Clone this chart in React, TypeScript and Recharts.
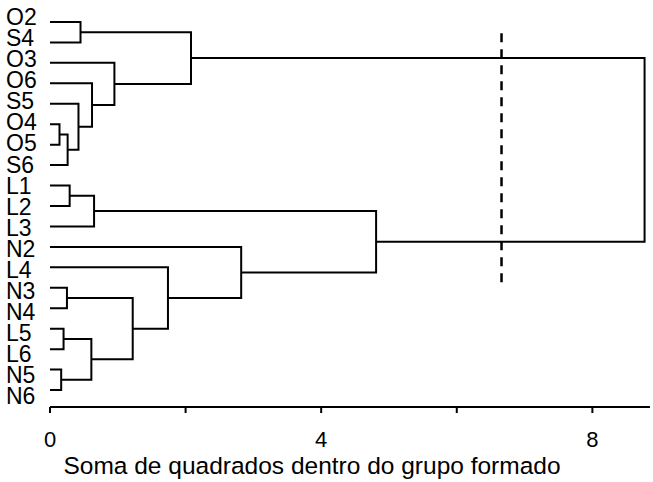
import React from 'react';
import { ScatterChart, Scatter, XAxis, YAxis } from 'recharts';

// Leaf names, top to bottom
const leaves = ['O2', 'S4', 'O3', 'O6', 'S5', 'O4', 'O5', 'S6', 'L1', 'L2', 'L3', 'N2', 'L4', 'N3', 'N4', 'L5', 'L6', 'N5', 'N6'];

// Merge steps: [childA, childB, height]; indices < leaves.length are leaves, the rest are earlier merges
const mergeA = [5, 19, 4, 3, 2, 0, 24, 8, 26, 17, 15, 13, 29, 30, 12, 11, 27, 25];
const mergeB = [6, 7, 20, 21, 22, 1, 23, 9, 10, 18, 16, 14, 28, 31, 32, 33, 34, 35];
const mergeHeight = [0.14, 0.26, 0.42, 0.62, 0.95, 0.45, 2.08, 0.29, 0.65, 0.165, 0.2, 0.25, 0.61, 1.22, 1.74, 2.82, 4.81, 8.77];

// Cut level
const cutLevel = 6.66;
const cutSpan = [0.55, 12.75];

const xTicks = [0, 2, 4, 6, 8];
const xTickLabels = ['0', '', '4', '', '8'];
const xLabel = 'Soma de quadrados dentro do grupo formado';

const FONT = '"Liberation Sans", Arial, Helvetica, sans-serif';

type Node = { y: number; h: number };

function buildLinks() {
  const nodes: Node[] = leaves.map((_, i) => ({ y: i, h: 0 }));
  const links: { x: number; y: number }[][] = [];
  mergeA.forEach((a, i) => {
    const b = mergeB[i];
    const h = mergeHeight[i];
    const na = nodes[a];
    const nb = nodes[b];
    links.push([
      { x: na.h, y: na.y },
      { x: h, y: na.y },
      { x: h, y: nb.y },
      { x: nb.h, y: nb.y },
    ]);
    nodes.push({ y: (na.y + nb.y) / 2, h });
  });
  return links;
}

const links = buildLinks();
const cutData = [
  { x: cutLevel, y: cutSpan[0] },
  { x: cutLevel, y: cutSpan[1] },
];

const LeafTick = (props: any) => {
  const { y, payload } = props;
  // labels are spaced slightly wider than the leaf lines
  const center = 17 + (y - 22) * 1.031;
  return (
    <text x={6} y={center + 8} fontSize={23} fontFamily={FONT} fill="#000" textAnchor="start">
      {leaves[payload.value]}
    </text>
  );
};

const XLabel = () => (
  <text x={312} y={474} fontSize={24.5} fontFamily={FONT} fill="#000" textAnchor="middle">
    {xLabel}
  </text>
);

const NoDot = () => <g />;

export default function App() {
  return (
    <div style={{ position: 'absolute', left: 0, top: 0, background: '#fff' }}>
      <ScatterChart width={653} height={482} margin={{ top: 1.5, right: 3, bottom: 0, left: 0 }}>
        <XAxis
          type="number"
          dataKey="x"
          domain={[0, 8.85]}
          ticks={xTicks}
          tickFormatter={(v: number) => xTickLabels[xTicks.indexOf(v)] ?? ''}
          height={75}
          axisLine={{ stroke: '#000', strokeWidth: 2 }}
          tickLine={{ stroke: '#000', strokeWidth: 2 }}
          tickSize={6}
          tickMargin={18}
          tick={{ fill: '#000', fontSize: 22, fontFamily: FONT }}
          label={<XLabel />}
          allowDataOverflow
        />
        <YAxis
          type="number"
          dataKey="y"
          domain={[-1, 18.83]}
          reversed
          ticks={leaves.map((_, i) => i)}
          interval={0}
          width={50}
          axisLine={false}
          tickLine={false}
          tick={<LeafTick />}
          allowDataOverflow
        />
        {links.map((pts, i) => (
          <Scatter
            key={i}
            data={pts}
            fill="#000"
            line={{ stroke: '#000', strokeWidth: 2 }}
            lineJointType="linear"
            shape={<NoDot />}
            isAnimationActive={false}
          />
        ))}
        <Scatter
          data={cutData}
          fill="#000"
          line={{ stroke: '#000', strokeWidth: 2.5, strokeDasharray: '9 7' }}
          lineJointType="linear"
          shape={<NoDot />}
          isAnimationActive={false}
        />
      </ScatterChart>
    </div>
  );
}
